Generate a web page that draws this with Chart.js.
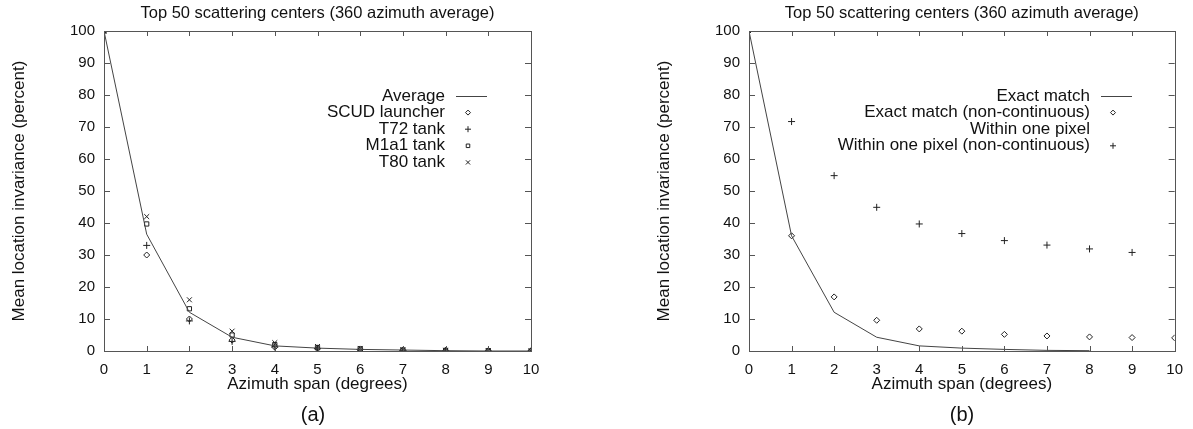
<!DOCTYPE html>
<html>
<head>
<meta charset="utf-8">
<script src="https://cdn.jsdelivr.net/npm/chart.js@4.4.1/dist/chart.umd.min.js"></script>
<style>
  body { margin: 0; background: #fff; width: 1193px; height: 429px; position: relative; overflow: hidden;
         font-family: "Liberation Sans", Arial, sans-serif; }
  .pane { position: absolute; top: 0; height: 429px; }
  .cap { position: absolute; top: 403px; font-size: 20px; color: #111; transform: translateX(-50%); }
</style>
</head>
<body>
<div class="pane" style="left:0;width:645px"><canvas id="chartA" width="645" height="429"></canvas></div>
<div class="pane" style="left:645px;width:548px"><canvas id="chartB" width="548" height="429"></canvas></div>
<div class="cap" style="left:313px">(a)</div>
<div class="cap" style="left:962px">(b)</div>

<script>
// azimuth span (degrees)
const spans = [0, 1, 2, 3, 4, 5, 6, 7, 8, 9, 10];
const xTicks = [0, 1, 2, 3, 4, 5, 6, 7, 8, 9, 10];
const yTicks = [0, 10, 20, 30, 40, 50, 60, 70, 80, 90, 100];

// (a) per target
const average = [100, 36.5, 12.1, 4.3, 1.6, 0.9, 0.5, 0.3, 0.1, 0, 0];
const scud    = [100, 30, 10, 3.4, 1.2, 0.7, 0.4, 0.2, 0.1, 0, 0];
const t72     = [100, 33, 9.4, 3.0, 1.3, 0.8, 0.5, 0.2, 0.1, 0, 0];
const m1a1    = [100, 39.7, 13.2, 5.0, 2.0, 1.1, 0.7, 0.3, 0.2, 0.1, 0];
const t80     = [100, 42, 16, 6.2, 2.6, 1.4, 0.8, 0.4, 0.2, 0.1, 0];

// (b) exact vs one pixel
const exactMatch     = [100, 36, 12.1, 4.3, 1.6, 0.9, 0.5, 0.2, 0.1];
const exactNonCont   = [100, 36, 16.9, 9.6, 6.9, 6.2, 5.2, 4.7, 4.4, 4.2, 4.1];
const withinNonCont  = [100, 71.7, 54.8, 44.9, 39.7, 36.7, 34.5, 33.1, 31.9, 30.8];

const TITLE = "Top 50 scattering centers (360 azimuth average)";
const FONT = '"Liberation Sans", Arial, sans-serif';
const INK = "#222";

const pts = (arr) => arr.map((y, i) => ({ x: spans[i], y }));

function lineSet(label, arr) {
  return { label, data: pts(arr), showLine: true, borderColor: "#444", borderWidth: 1,
           pointRadius: 0, fill: false, tension: 0 };
}
function markSet(label, arr, style, r) {
  return { label, data: pts(arr), showLine: false, pointStyle: style, pointRadius: r,
           pointBorderColor: INK, pointBackgroundColor: "rgba(0,0,0,0)", pointBorderWidth: 1 };
}

// gnuplot look: frame, inward ticks, title, key
function gnuPlugin(legend) {
  return {
    id: "gnu",
    afterDraw(chart) {
      const { ctx, chartArea: a, scales } = chart;
      ctx.save();
      ctx.strokeStyle = "#555";
      ctx.lineWidth = 1;
      ctx.strokeRect(Math.round(a.left) + 0.5, Math.round(a.top) + 0.5,
                     Math.round(a.right - a.left), Math.round(a.bottom - a.top));
      ctx.beginPath();
      xTicks.forEach(v => {
        const x = Math.round(scales.x.getPixelForValue(v)) + 0.5;
        ctx.moveTo(x, a.bottom); ctx.lineTo(x, a.bottom - 5);
        ctx.moveTo(x, a.top); ctx.lineTo(x, a.top + 5);
      });
      yTicks.forEach(v => {
        const y = Math.round(scales.y.getPixelForValue(v)) + 0.5;
        ctx.moveTo(a.left, y); ctx.lineTo(a.left + 6, y);
        ctx.moveTo(a.right, y); ctx.lineTo(a.right - 6, y);
      });
      ctx.stroke();

      ctx.fillStyle = "#111";
      ctx.font = "16.5px " + FONT;
      ctx.textAlign = "center";
      ctx.textBaseline = "middle";
      ctx.fillText(TITLE, (a.left + a.right) / 2, 13);

      ctx.font = "17px " + FONT;
      ctx.textAlign = "right";
      legend.forEach((item, i) => {
        const y = 96 + i * 16.6;
        ctx.fillStyle = "#111";
        ctx.fillText(item.label, 445, y);
        if (item.kind === "line") {
          ctx.strokeStyle = "#444";
          ctx.beginPath();
          ctx.moveTo(456, Math.round(y) + 0.5); ctx.lineTo(487, Math.round(y) + 0.5);
          ctx.stroke();
        } else if (item.kind === "point") {
          ctx.strokeStyle = INK;
          ctx.fillStyle = "rgba(0,0,0,0)";
          Chart.helpers.drawPoint(ctx, { pointStyle: item.style, radius: item.r, borderWidth: 1 }, 468, y);
        }
      });
      ctx.restore();
    }
  };
}

function makeChart(id, datasets, legend, padRight) {
  return new Chart(document.getElementById(id), {
    type: "scatter",
    data: { datasets },
    options: {
      responsive: false,
      animation: false,
      layout: { padding: { left: 0, top: 31, right: padRight, bottom: 28 } },
      plugins: { legend: { display: false }, title: { display: false }, tooltip: { enabled: false } },
      scales: {
        x: {
          type: "linear", min: 0, max: 10,
          grid: { display: false, drawTicks: false }, border: { display: false },
          ticks: { stepSize: 1, padding: 10, color: "#111", font: { family: FONT, size: 15 } },
          title: { display: true, text: "Azimuth span (degrees)", color: "#111",
                   font: { family: FONT, size: 17 }, padding: { top: 0, bottom: 6 } },
          afterFit: (s) => { s.height = 50; }
        },
        y: {
          type: "linear", min: 0, max: 100,
          grid: { display: false, drawTicks: false }, border: { display: false },
          ticks: { stepSize: 10, padding: 9, color: "#111", font: { family: FONT, size: 15 } },
          title: { display: true, text: "Mean location invariance (percent)", color: "#111",
                   font: { family: FONT, size: 17 }, padding: { top: 9, bottom: 0 } },
          afterFit: (s) => { s.width = 104; }
        }
      }
    },
    plugins: [gnuPlugin(legend)]
  });
}

makeChart("chartA", [
  lineSet("Average", average),
  markSet("SCUD launcher", scud, "rectRot", 3),
  markSet("T72 tank", t72, "cross", 3.5),
  markSet("M1a1 tank", m1a1, "rect", 3),
  markSet("T80 tank", t80, "crossRot", 3.5)
], [
  { label: "Average", kind: "line" },
  { label: "SCUD launcher", kind: "point", style: "rectRot", r: 2.5 },
  { label: "T72 tank", kind: "point", style: "cross", r: 3 },
  { label: "M1a1 tank", kind: "point", style: "rect", r: 2.5 },
  { label: "T80 tank", kind: "point", style: "crossRot", r: 3 }
], 114);

makeChart("chartB", [
  lineSet("Exact match", exactMatch),
  markSet("Exact match (non-continuous)", exactNonCont, "rectRot", 3),
  markSet("Within one pixel (non-continuous)", withinNonCont, "cross", 3.5)
], [
  { label: "Exact match", kind: "line" },
  { label: "Exact match (non-continuous)", kind: "point", style: "rectRot", r: 2.5 },
  { label: "Within one pixel", kind: "none" },
  { label: "Within one pixel (non-continuous)", kind: "point", style: "cross", r: 3 }
], 17);
</script>
</body>
</html>
